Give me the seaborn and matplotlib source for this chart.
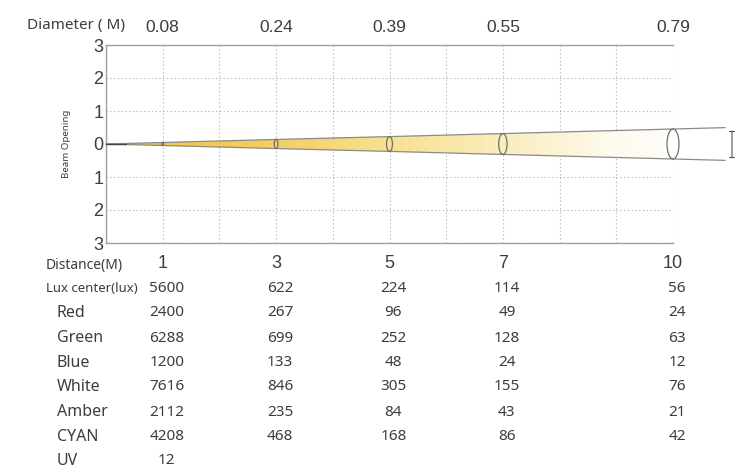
import numpy as np
import pandas as pd
import matplotlib
matplotlib.use("Agg")
import matplotlib.pyplot as plt
import seaborn as sns
from matplotlib.patches import Ellipse, Polygon
from matplotlib.colors import LinearSegmentedColormap
from matplotlib.transforms import blended_transform_factory

# ---- data ----
distance = [1, 3, 5, 7, 10]
diameter = [0.08, 0.24, 0.39, 0.55, 0.79]
row_labels = ["Lux center(lux)", "Red", "Green", "Blue", "White", "Amber", "CYAN", "UV"]
lux_center = [5600, 622, 224, 114, 56]
red = [2400, 267, 96, 49, 24]
green = [6288, 699, 252, 128, 63]
blue = [1200, 133, 48, 24, 12]
white = [7616, 846, 305, 155, 76]
amber = [2112, 235, 84, 43, 21]
cyan = [4208, 468, 168, 86, 42]
uv = [12]
rows = [lux_center, red, green, blue, white, amber, cyan, uv]
y_ticks = [3, 2, 1, 0, -1, -2, -3]

sns.set_theme(style="white")
plt.rcParams["font.family"] = ["Liberation Sans", "DejaVu Sans"]

W, H = 740, 470
fig = plt.figure(figsize=(W / 100, H / 100), dpi=100)
ax = fig.add_axes([106 / W, 1 - 243 / H, (673 - 106) / W, (243 - 45) / H])

TXT = "#3d3d3d"
GRID = "#b8b8b8"
SANS = ["Noto Sans", "DejaVu Sans"]

# beam geometry (visual scale of drawn beam relative to diameter)
scale = 1.15
half = [d * scale / 2 for d in diameter]
slope = half[-1] / distance[-1]
x_end = 10.92
df = pd.DataFrame({"x": [0] + distance + [x_end],
                   "top": [0] + half + [slope * x_end],
                   "bot": [0] + [-h for h in half] + [-slope * x_end]})

# gradient fill of the cone
cmap = LinearSegmentedColormap.from_list(
    "beam", [(0.0, "#f0c440"), (0.25, "#f3cd5a"), (0.5, "#f8e296"),
             (0.7, "#fbefc6"), (0.85, "#fefaee"), (1.0, "#ffffff")])
grad = np.linspace(0, 1, 256).reshape(1, -1)
im = ax.imshow(grad, extent=[0, 10.5, -0.6, 0.6], aspect="auto", cmap=cmap,
               zorder=1)
poly = Polygon([(0, 0), (x_end, slope * x_end), (x_end, -slope * x_end)],
               closed=True, transform=ax.transData, facecolor="none", edgecolor="none")
ax.add_patch(poly)
im.set_clip_path(poly)
ax.set_xlim(0, 10)
ax.set_ylim(-3, 3)

# cone outline lines
sns.lineplot(data=df, x="x", y="top", ax=ax, color="#8a8a8a", lw=0.9,
             zorder=3, clip_on=False, sort=False)
sns.lineplot(data=df, x="x", y="bot", ax=ax, color="#8a8a8a", lw=0.9,
             zorder=3, clip_on=False, sort=False)
ax.plot([0, 0.35], [0, 0], color="#444444", lw=1.0, zorder=4)

# ellipses at each distance
ratio = 0.4 * 33 / 56.7
for d, h in zip(distance, half):
    e = Ellipse((d, 0), width=max(2 * h * ratio, 0.03), height=2 * h,
                facecolor="none", edgecolor="#707070", lw=0.9, zorder=5, clip_on=False)
    ax.add_patch(e)

# dimension marker at right
ax.annotate("", xy=(11.04, slope * 10.6), xytext=(11.04, -slope * 10.6),
            xycoords="data", textcoords="data", annotation_clip=False,
            arrowprops=dict(arrowstyle="|-|,widthA=0.15,widthB=0.15", color="#555555", lw=0.8))

# grid
ax.set_xticks(range(0, 11))
ax.set_yticks(y_ticks)
ax.set_xticklabels([])
ax.set_yticklabels([str(abs(v)) for v in y_ticks], fontsize=13, color=TXT)
ax.grid(True, linestyle=(0, (1.2, 2.2)), color=GRID, lw=0.8, zorder=0)
ax.set_axisbelow(True)
ax.tick_params(axis="both", length=0, pad=2)
for s in ["left", "top", "bottom"]:
    ax.spines[s].set_visible(True)
    ax.spines[s].set_color("#a0a0a0")
    ax.spines[s].set_linewidth(1.0)
ax.spines["right"].set_visible(False)
ax.set_xlabel("")
ax.set_ylabel("Beam Opening", fontsize=7, color=TXT, family=SANS, labelpad=16)

tr = blended_transform_factory(ax.transData, fig.transFigure)

def fy(ypix):
    return 1 - ypix / H

# top diameters
fig.text(27 / W, fy(25), "Diameter ( M)", fontsize=11, color=TXT,
         family=SANS, va="center", ha="left")
for d, dia in zip(distance, diameter):
    ax.text(d, fy(27), f"{dia:.2f}", transform=tr, fontsize=12.5, color=TXT,
            ha="center", va="center")

# distance row
fig.text(46 / W, fy(265), "Distance(M)", fontsize=10, color=TXT,
         family=SANS, va="center", ha="left")
for d in distance:
    ax.text(d, fy(264), str(d), transform=tr, fontsize=13, color=TXT,
            ha="center", va="center")

# table rows
row_y = [289, 313, 338, 363, 387, 412, 437, 461]
for lab, vals, yp in zip(row_labels, rows, row_y):
    is_lux = lab.startswith("Lux")
    lx = 46 if is_lux else 57
    fig.text(lx / W, fy(yp), lab, fontsize=9.5 if is_lux else 11.5,
             color=TXT, family=SANS, va="center", ha="left")
    for d, v in zip(distance, vals):
        ax.text(d + 0.07, fy(yp), str(v), transform=tr, fontsize=11, color=TXT,
                family=SANS, ha="center", va="center")

fig.savefig("out.png", dpi=100)
